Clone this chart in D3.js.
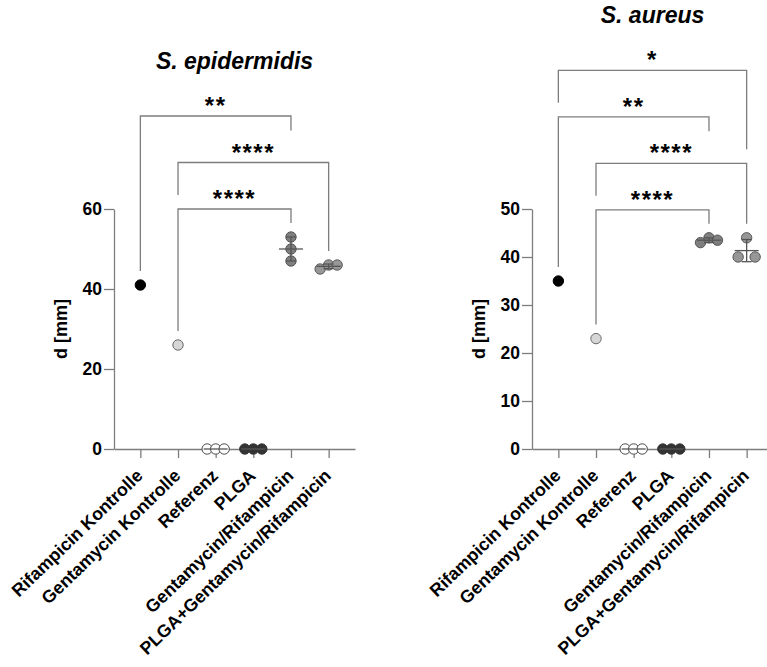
<!DOCTYPE html>
<html>
<head>
<meta charset="utf-8">
<script src="https://cdn.jsdelivr.net/npm/d3@7"></script>
<style>
    body { margin: 0; background: #fff; }
    svg { display: block; font-family: "Liberation Sans", Arial, sans-serif; }
</style>
</head>
<body>
<div id="chart"></div>
<script>
const categories = ['Rifampicin Kontrolle', 'Gentamycin Kontrolle', 'Referenz', 'PLGA',
    'Gentamycin/Rifampicin', 'PLGA+Gentamycin/Rifampicin'];

// replicate values per group, d [mm]
const epiValues = [[41], [26], [0, 0, 0], [0, 0, 0], [53, 50, 47], [45, 46, 46]];
const aureusValues = [[35], [23], [0, 0, 0], [0, 0, 0], [43, 44, 43.5], [44, 40, 40]];

const epiTicks = [0, 20, 40, 60];
const aureusTicks = [0, 10, 20, 30, 40, 50];

// comparisons listed from lowest bracket to highest: [group a, group b, label]
const epiComparisons = [[1, 4, '****'], [1, 5, '****'], [0, 4, '**']];
const aureusComparisons = [[1, 4, '****'], [1, 5, '****'], [0, 4, '**'], [0, 5, '*']];

const groupFill = ['#000000', '#d6d6d6', '#ffffff', '#333333', '#7f7f7f', '#979797'];
const groupStroke = ['#000000', '#6a6a6a', '#4a4a4a', '#333333', '#555555', '#5a5a5a'];

const width = 767, height = 667;
const axisColor = '#7d7d7d';
const r = 5.2;
const font = '"Liberation Sans", Arial, sans-serif';

const svg = d3.select('#chart').append('svg')
    .attr('width', width)
    .attr('height', height);

function drawPanel(opts) {
    const g = svg.append('g');

    const x = d3.scalePoint()
        .domain(d3.range(categories.length))
        .range([opts.left, opts.right])
        .padding(0.7);

    const y = d3.scaleLinear()
        .domain([0, d3.max(opts.ticks)])
        .range([449, 209]);

    // y axis
    const yAxis = g.append('g')
        .attr('transform', `translate(${opts.left},0)`)
        .call(d3.axisLeft(y).tickValues(opts.ticks).tickSize(10).tickSizeOuter(0).tickPadding(2));
    yAxis.selectAll('path, line').attr('stroke', axisColor).attr('stroke-width', 1.3);
    yAxis.selectAll('text')
        .attr('fill', '#000')
        .style('font-size', '17.5px')
        .style('font-weight', 'bold')
        .style('font-family', font);

    // x axis
    const xAxis = g.append('g')
        .attr('transform', `translate(0,${y(0)})`)
        .call(d3.axisBottom(x).tickSize(9).tickSizeOuter(0).tickFormat(i => categories[i]));
    xAxis.selectAll('path, line').attr('stroke', axisColor).attr('stroke-width', 1.3);
    xAxis.selectAll('text')
        .attr('fill', '#000')
        .attr('x', 0).attr('y', 0).attr('dy', 0)
        .attr('text-anchor', 'end')
        .attr('transform', 'translate(3,28) rotate(-44)')
        .style('font-size', '17.8px')
        .style('font-weight', 'bold')
        .style('font-family', font);

    // y label
    g.append('text')
        .attr('transform', `translate(${opts.left - 47},${(y(0) + y.range()[1]) / 2}) rotate(-90)`)
        .attr('text-anchor', 'middle')
        .style('font-size', '18px')
        .style('font-weight', 'bold')
        .text('d [mm]');

    // scatter layout: points closer than a diameter share a row and spread sideways
    const spread = 8.5;
    const points = [];
    opts.values.forEach((vals, gi) => {
        const items = vals.map((v, k) => ({ v, k, gi }));
        const sorted = items.slice().sort((a, b) => a.v - b.v);
        const rows = [];
        sorted.forEach(p => {
            const last = rows[rows.length - 1];
            if (last && Math.abs(y(p.v) - y(last[last.length - 1].v)) < 2 * r) last.push(p);
            else rows.push([p]);
        });
        rows.forEach(row => {
            row.sort((a, b) => a.k - b.k);
            const n = row.length;
            row.forEach((p, i) => {
                let slot = i - (n - 1) / 2;
                if (n % 2 === 0) slot = slot * 2;
                points.push({ gi, v: p.v, cx: x(gi) + slot * spread, cy: y(p.v) });
            });
        });
    });

    g.selectAll('circle.pt')
        .data(points)
        .join('circle')
        .attr('class', 'pt')
        .attr('cx', d => d.cx)
        .attr('cy', d => d.cy)
        .attr('r', r)
        .attr('fill', d => groupFill[d.gi])
        .attr('stroke', d => groupStroke[d.gi])
        .attr('stroke-width', 1);

    // mean +- SD for groups with replicates
    const stats = opts.values.map((vals, gi) => ({
        gi, n: vals.length, mean: d3.mean(vals), sd: vals.length > 1 ? d3.deviation(vals) : 0
    })).filter(d => d.n > 1);

    const eb = g.append('g').attr('stroke', '#555').attr('stroke-width', 1.3).attr('fill', 'none');
    stats.forEach(s => {
        const cx = x(s.gi);
        eb.append('line').attr('x1', cx - 12).attr('x2', cx + 12).attr('y1', y(s.mean)).attr('y2', y(s.mean));
        if (s.sd > 0) {
            eb.append('line').attr('x1', cx).attr('x2', cx).attr('y1', y(s.mean - s.sd)).attr('y2', y(s.mean + s.sd));
            [s.mean - s.sd, s.mean + s.sd].forEach(v => {
                eb.append('line').attr('x1', cx - 5).attr('x2', cx + 5).attr('y1', y(v)).attr('y2', y(v));
            });
        }
    });

    // significance brackets
    const maxAll = d3.max(opts.values.flat());
    const base = y(maxAll) - 28;
    const levelGap = 46.5;
    const colTop = opts.values.map(vals => y(d3.max(vals)));
    const placed = [];

    opts.comps.forEach(([a, b, label], i) => {
        const lineY = base - i * levelGap;
        const legEnd = c => {
            let top = colTop[c];
            placed.forEach(p => {
                if (c === p.a || c === p.b) top = Math.min(top, p.lineY);
                else if (c > p.a && c < p.b) top = Math.min(top, p.lineY - 18);
            });
            return top - 14;
        };
        const xa = x(a), xb = x(b);
        g.append('path')
            .attr('d', `M${xa},${legEnd(a)}V${lineY}H${xb}V${legEnd(b)}`)
            .attr('fill', 'none')
            .attr('stroke', axisColor)
            .attr('stroke-width', 1.3);
        g.append('text')
            .attr('x', (xa + xb) / 2)
            .attr('y', lineY - 2)
            .attr('text-anchor', 'middle')
            .style('font-size', '24px')
            .style('font-weight', 'bold')
            .style('letter-spacing', '1.5px')
            .text(label);
        placed.push({ a, b, lineY });
    });

    const topLine = base - (opts.comps.length - 1) * levelGap;
    g.append('text')
        .attr('x', (opts.left + opts.right) / 2)
        .attr('y', topLine - 47.5)
        .attr('text-anchor', 'middle')
        .style('font-size', '23px')
        .style('font-weight', 'bold')
        .style('font-style', 'italic')
        .text(opts.title);
}

drawPanel({ title: 'S. epidermidis', values: epiValues, ticks: epiTicks, comps: epiComparisons, left: 114, right: 355 });
drawPanel({ title: 'S. aureus', values: aureusValues, ticks: aureusTicks, comps: aureusComparisons, left: 532, right: 773 });
</script>
</body>
</html>
